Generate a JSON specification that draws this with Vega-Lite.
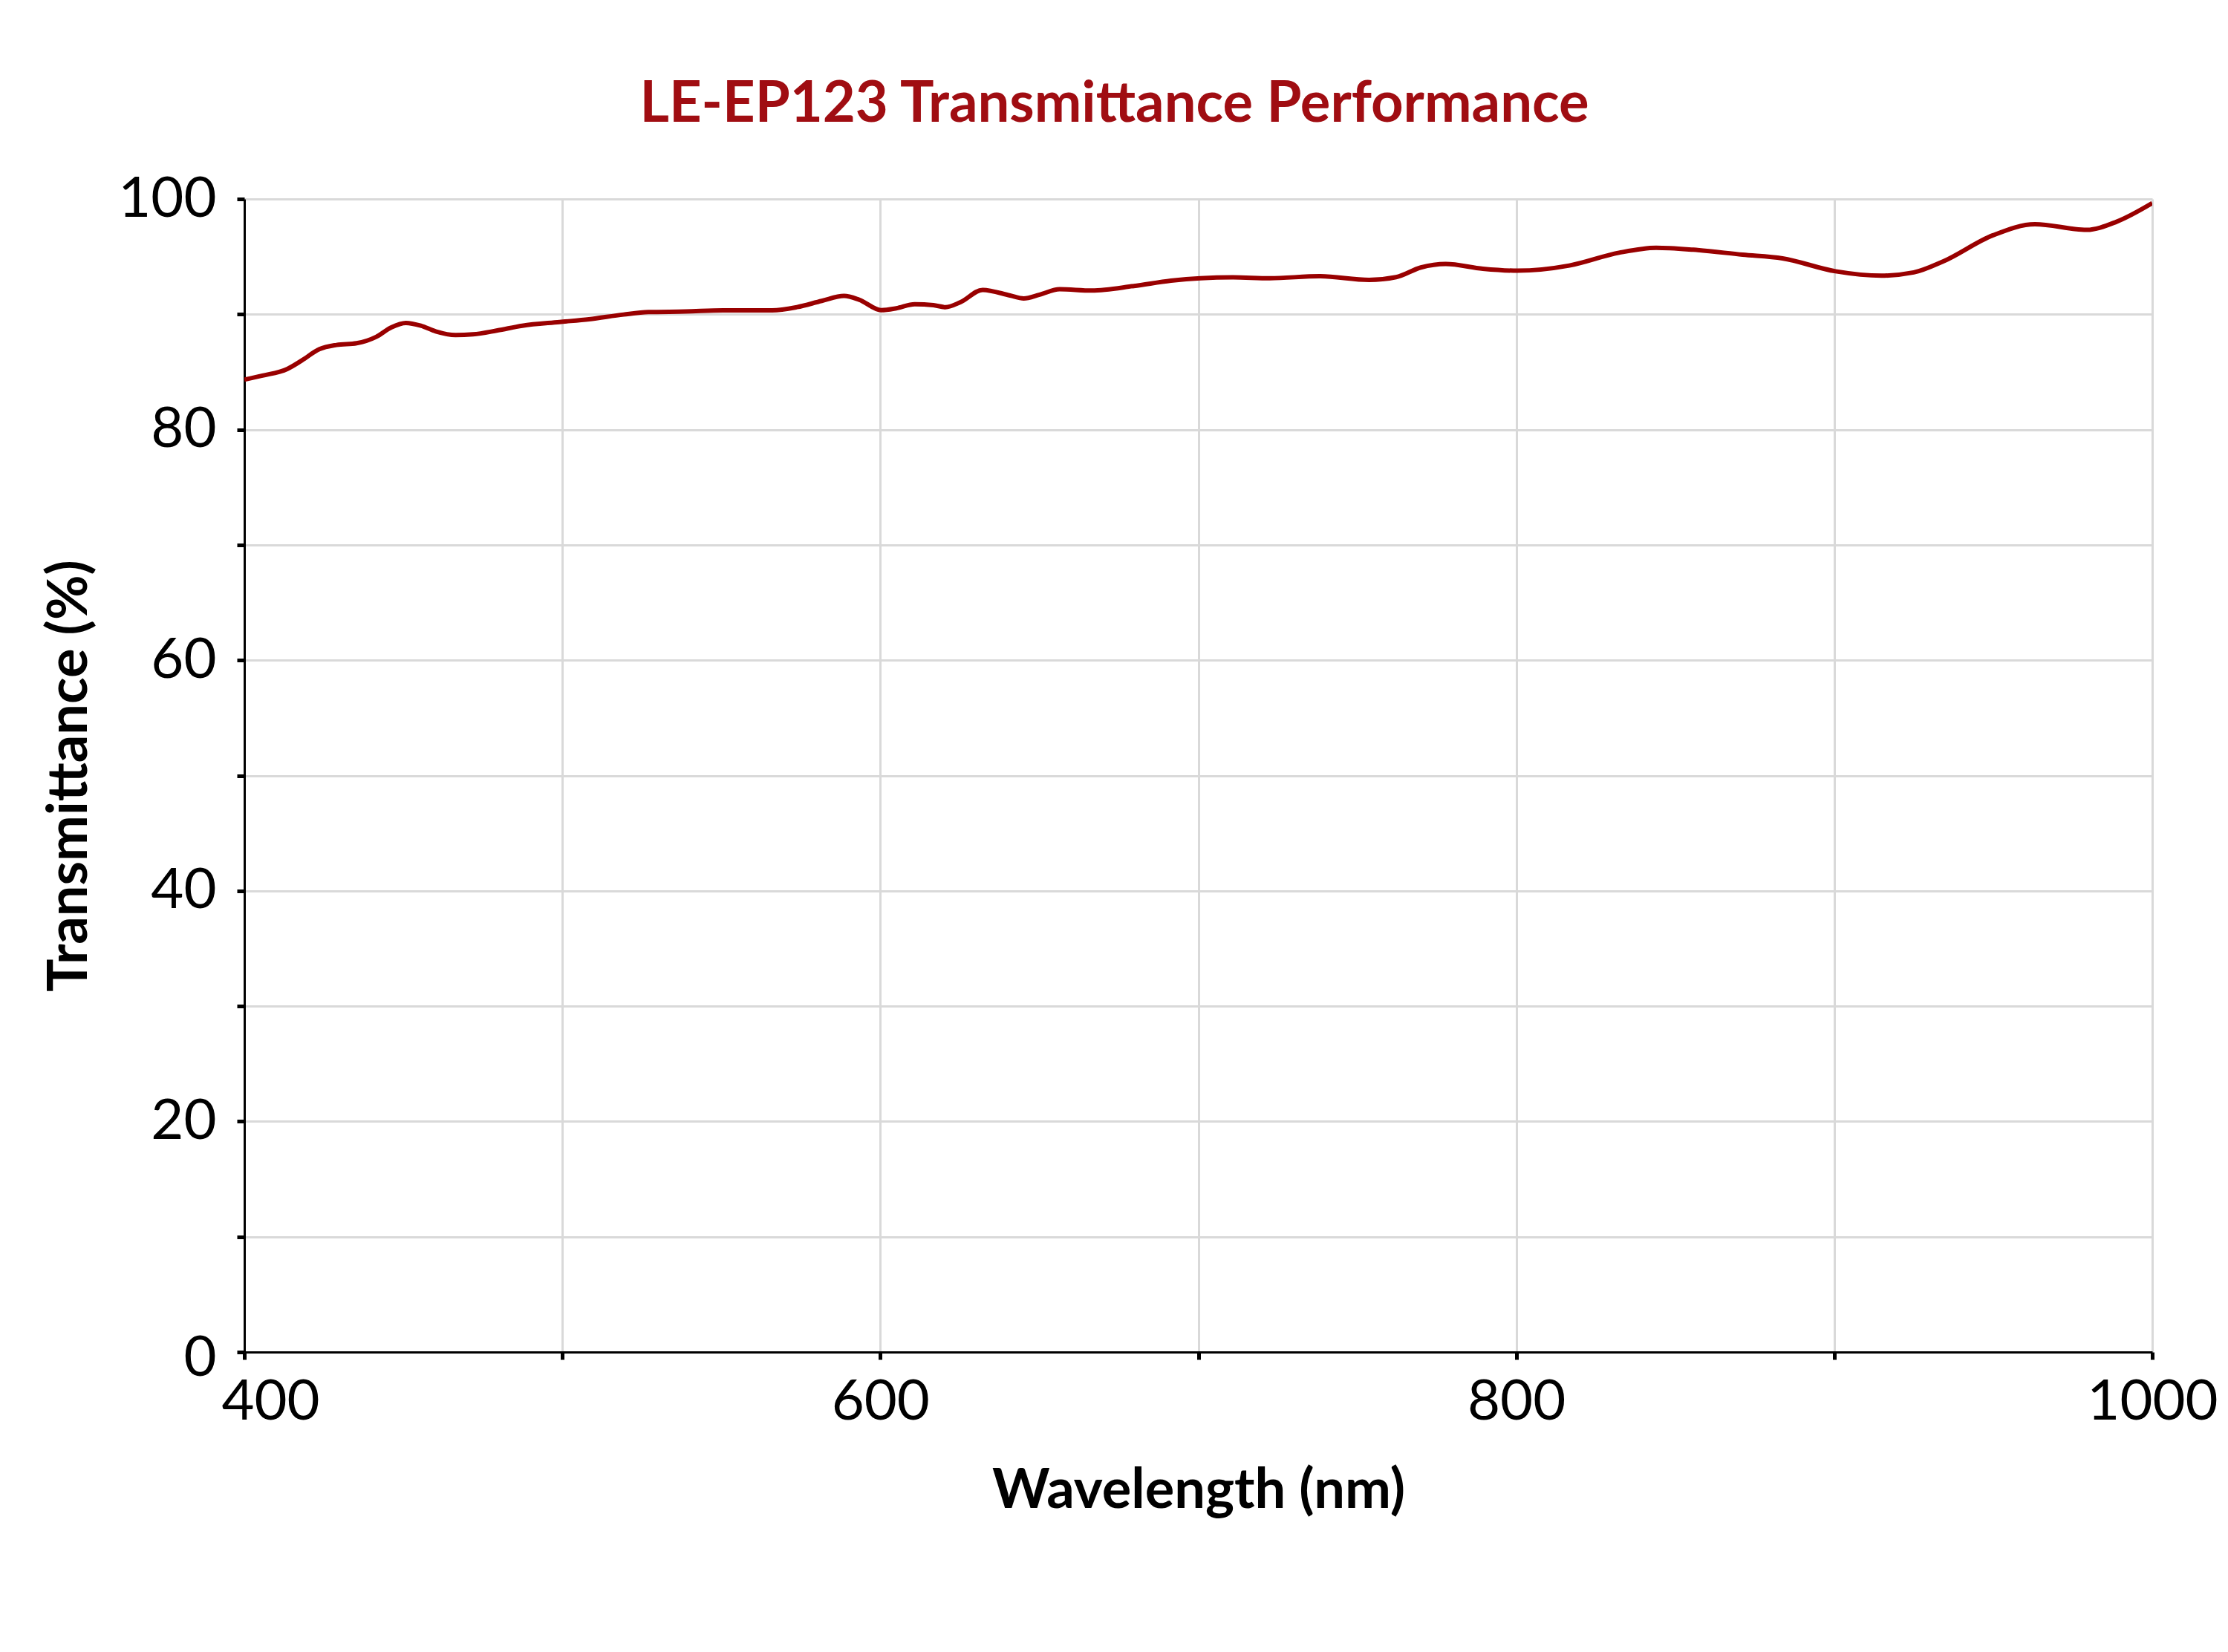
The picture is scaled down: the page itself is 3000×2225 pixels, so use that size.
{
  "$schema": "https://vega.github.io/schema/vega-lite/v6.json",
  "autosize": {"type": "none"},
  "padding": {"left": 329, "top": 268, "right": 102, "bottom": 404},
  "width": 2569,
  "height": 1553,
  "background": "white",
  "title": {
    "text": "LE-EP123 Transmittance Performance",
    "font": "Lato",
    "fontWeight": "bold",
    "fontSize": 76,
    "color": "#a00d12",
    "anchor": "middle",
    "frame": "group",
    "dx": -113,
    "offset": 50
  },
  "data": {
    "values": [
      {"wl": 400.0, "t": 84.33},
      {"wl": 405.7, "t": 84.68},
      {"wl": 413.5, "t": 85.26},
      {"wl": 418.1, "t": 86.0},
      {"wl": 423.6, "t": 86.97},
      {"wl": 429.0, "t": 87.34},
      {"wl": 435.3, "t": 87.49},
      {"wl": 441.5, "t": 88.05},
      {"wl": 446.2, "t": 88.86},
      {"wl": 450.8, "t": 89.25},
      {"wl": 455.5, "t": 89.01},
      {"wl": 460.2, "t": 88.52},
      {"wl": 466.4, "t": 88.2},
      {"wl": 471.9, "t": 88.26},
      {"wl": 479.6, "t": 88.6},
      {"wl": 487.4, "t": 89.01},
      {"wl": 499.1, "t": 89.33},
      {"wl": 508.4, "t": 89.57},
      {"wl": 519.3, "t": 89.98},
      {"wl": 527.1, "t": 90.19},
      {"wl": 538.8, "t": 90.24},
      {"wl": 550.5, "t": 90.34},
      {"wl": 566.0, "t": 90.34},
      {"wl": 573.8, "t": 90.62},
      {"wl": 581.6, "t": 91.16},
      {"wl": 588.6, "t": 91.59},
      {"wl": 593.3, "t": 91.27},
      {"wl": 600.3, "t": 90.36},
      {"wl": 605.0, "t": 90.52},
      {"wl": 610.8, "t": 90.88},
      {"wl": 616.7, "t": 90.79},
      {"wl": 620.5, "t": 90.62},
      {"wl": 625.2, "t": 91.05},
      {"wl": 632.2, "t": 92.12},
      {"wl": 640.8, "t": 91.63},
      {"wl": 645.1, "t": 91.37},
      {"wl": 650.1, "t": 91.7},
      {"wl": 656.4, "t": 92.17},
      {"wl": 666.5, "t": 92.06},
      {"wl": 679.7, "t": 92.45},
      {"wl": 691.4, "t": 92.92},
      {"wl": 700.7, "t": 93.13},
      {"wl": 710.9, "t": 93.2},
      {"wl": 722.5, "t": 93.13},
      {"wl": 738.1, "t": 93.3},
      {"wl": 753.7, "t": 92.98},
      {"wl": 762.2, "t": 93.22},
      {"wl": 770.0, "t": 94.06},
      {"wl": 777.8, "t": 94.36},
      {"wl": 789.5, "t": 93.95},
      {"wl": 800.4, "t": 93.78},
      {"wl": 816.7, "t": 94.23},
      {"wl": 832.3, "t": 95.34},
      {"wl": 844.0, "t": 95.77},
      {"wl": 855.7, "t": 95.6},
      {"wl": 871.2, "t": 95.17},
      {"wl": 883.7, "t": 94.85},
      {"wl": 900.4, "t": 93.73},
      {"wl": 914.8, "t": 93.35},
      {"wl": 925.0, "t": 93.63},
      {"wl": 934.3, "t": 94.59},
      {"wl": 949.9, "t": 96.85},
      {"wl": 963.1, "t": 97.81},
      {"wl": 979.4, "t": 97.32},
      {"wl": 988.8, "t": 98.03},
      {"wl": 1000.0, "t": 99.64}
    ]
  },
  "mark": {"type": "line", "color": "#990000", "strokeWidth": 6, "interpolate": "monotone", "clip": true},
  "encoding": {
    "x": {
      "field": "wl",
      "type": "quantitative",
      "scale": {"domain": [400, 1000], "nice": false, "zero": false},
      "axis": {
        "title": "Wavelength (nm)",
        "values": [400, 500, 600, 700, 800, 900, 1000],
        "labelExpr": "datum.value % 200 === 0 ? datum.label : ''",
        "format": "d",
        "labelFont": "Lato",
        "labelFontSize": 76,
        "labelColor": "black",
        "labelPadding": 20,
        "labelFlush": false,
        "labelOverlap": false,
        "labelOffset": {"condition": {"test": "datum.value === 400", "value": 35}, "value": 0},
        "titleFont": "Lato",
        "titleFontSize": 74,
        "titleFontWeight": "bold",
        "titleColor": "black",
        "titlePadding": 46,
        "domainColor": "black",
        "domainWidth": 3,
        "tickColor": "black",
        "tickWidth": 5,
        "tickSize": 10,
        "gridColor": "#d9d9d9",
        "gridWidth": 3,
        "encode": {
          "ticks": {"update": {"y": {"value": -10}, "y2": {"value": 10}}}
        }
      }
    },
    "y": {
      "field": "t",
      "type": "quantitative",
      "scale": {"domain": [0, 100], "nice": false},
      "axis": {
        "title": "Transmittance (%)",
        "values": [0, 10, 20, 30, 40, 50, 60, 70, 80, 90, 100],
        "labelExpr": "datum.value % 20 === 0 ? datum.label : ''",
        "labelFont": "Lato",
        "labelFontSize": 76,
        "labelColor": "black",
        "labelPadding": 28,
        "labelFlush": false,
        "labelOverlap": false,
        "labelOffset": {"condition": {"test": "datum.value === 0", "value": 8}, "value": 0},
        "titleFont": "Lato",
        "titleFontSize": 74,
        "titleFontWeight": "bold",
        "titleColor": "black",
        "titlePadding": 26,
        "domainColor": "black",
        "domainWidth": 3,
        "tickColor": "black",
        "tickWidth": 5,
        "tickSize": 10,
        "gridColor": "#d9d9d9",
        "gridWidth": 3,
        "encode": {
          "ticks": {"update": {"x": {"value": 10}, "x2": {"value": -10}}}
        }
      }
    }
  },
  "config": {"view": {"stroke": null}}
}
